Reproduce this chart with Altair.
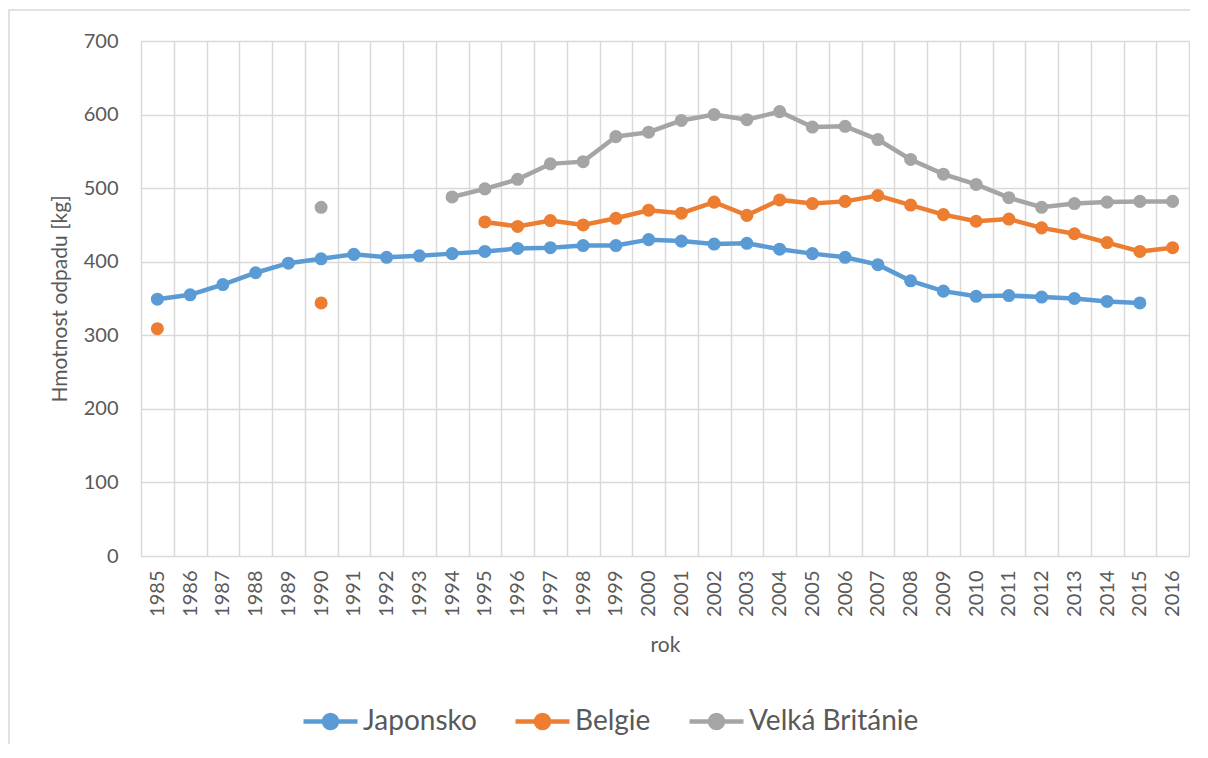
import altair as alt
import pandas as pd

years = [1985, 1986, 1987, 1988, 1989, 1990, 1991, 1992, 1993, 1994, 1995,
         1996, 1997, 1998, 1999, 2000, 2001, 2002, 2003, 2004, 2005, 2006,
         2007, 2008, 2009, 2010, 2011, 2012, 2013, 2014, 2015, 2016]

japonsko = [349, 355, 369, 385, 398, 404, 410, 406, 408, 411, 414,
            418, 419, 422, 422, 430, 428, 424, 425, 417, 411, 406,
            396, 374, 360, 353, 354, 352, 350, 346, 344, None]

belgie = [309, None, None, None, None, 344, None, None, None, None, 454,
          448, 456, 450, 459, 470, 466, 481, 463, 484, 479, 482,
          490, 477, 464, 455, 458, 446, 438, 426, 414, 419]

velka_britanie = [None, None, None, None, None, 474, None, None, None, 488, 499,
                  512, 533, 536, 570, 576, 592, 600, 593, 604, 583, 584,
                  566, 539, 519, 505, 487, 474, 479, 481, 482, 482]

series_names = ["Japonsko", "Belgie", "Velká Británie"]
series_colors = ["#5B9BD5", "#ED7D31", "#A5A5A5"]

rows = []
for name, vals in zip(series_names, [japonsko, belgie, velka_britanie]):
    seg = 0
    prev = False
    for yr, v in zip(years, vals):
        if v is None:
            prev = False
            continue
        if not prev:
            seg += 1
        prev = True
        rows.append({"rok": str(yr), "v": v, "serie": name, "seg": f"{name}-{seg}"})
df = pd.DataFrame(rows)

year_labels = [str(y) for y in years]
FONT = "Lato"
TXT = "#595959"
GRID = "#d9d9d9"

x_enc = alt.X(
    "rok:N",
    scale=alt.Scale(type="band", domain=year_labels, paddingInner=0, paddingOuter=0),
    axis=alt.Axis(
        title="rok", labelAngle=-90, labelAlign="right", labelBaseline="middle",
        labelPadding=14, ticks=False, domain=False, grid=True, tickBand="extent",
        gridColor=GRID, gridWidth=1.5, labelFontSize=20, labelColor=TXT,
        titleFontSize=21, titleColor=TXT, titleFontWeight="normal", titlePadding=18,
        labelFont=FONT, titleFont=FONT,
    ),
)
y_enc = alt.Y(
    "v:Q",
    scale=alt.Scale(domain=[0, 700], nice=False),
    axis=alt.Axis(
        title="Hmotnost odpadu [kg]", values=[0, 100, 200, 300, 400, 500, 600, 700],
        ticks=False, domain=False, grid=True, gridColor=GRID, gridWidth=1.5,
        labelPadding=23, labelFontSize=20, labelColor=TXT, titleFontSize=21,
        titleColor=TXT, titleFontWeight="normal", titlePadding=13,
        labelFont=FONT, titleFont=FONT,
    ),
)
color_enc = alt.Color(
    "serie:N",
    scale=alt.Scale(domain=series_names, range=series_colors),
    legend=alt.Legend(
        title=None, orient="none", direction="horizontal", legendX=160, legendY=651,
        labelFontSize=28, labelColor=TXT, labelFont=FONT, columnPadding=29,
        labelOffset=3, labelLimit=0,
        symbolType="M-1,0L1,0M-0.24,0A0.24,0.24,0,1,1,0.24,0A0.24,0.24,0,1,1,-0.24,0Z",
        symbolSize=2916, symbolStrokeWidth=4.5,
    ),
)

base = alt.Chart(df)
lines = base.mark_line(strokeWidth=4.5).encode(x=x_enc, y=y_enc, color=color_enc, detail="seg:N")
points = base.mark_circle(size=170, opacity=1).encode(x=x_enc, y=y_enc, color=color_enc)

frame_df = pd.DataFrame({"a": [0]})
frame = alt.Chart(frame_df).mark_rect(fill=None, stroke=GRID, strokeWidth=1.5).encode(
    x=alt.value(-132), x2=alt.value(1200), y=alt.value(-31), y2=alt.value(900))

chart = alt.layer(frame, lines, points).properties(
    width=1048, height=515,
    autosize=alt.AutoSizeParams(type="none"),
    padding={"left": 133, "top": 33, "right": 1, "bottom": 188},
).configure_view(stroke=GRID, strokeWidth=1.5).configure(background="transparent")

chart.save("out.html", embed_options={"renderer": "svg", "actions": False})
